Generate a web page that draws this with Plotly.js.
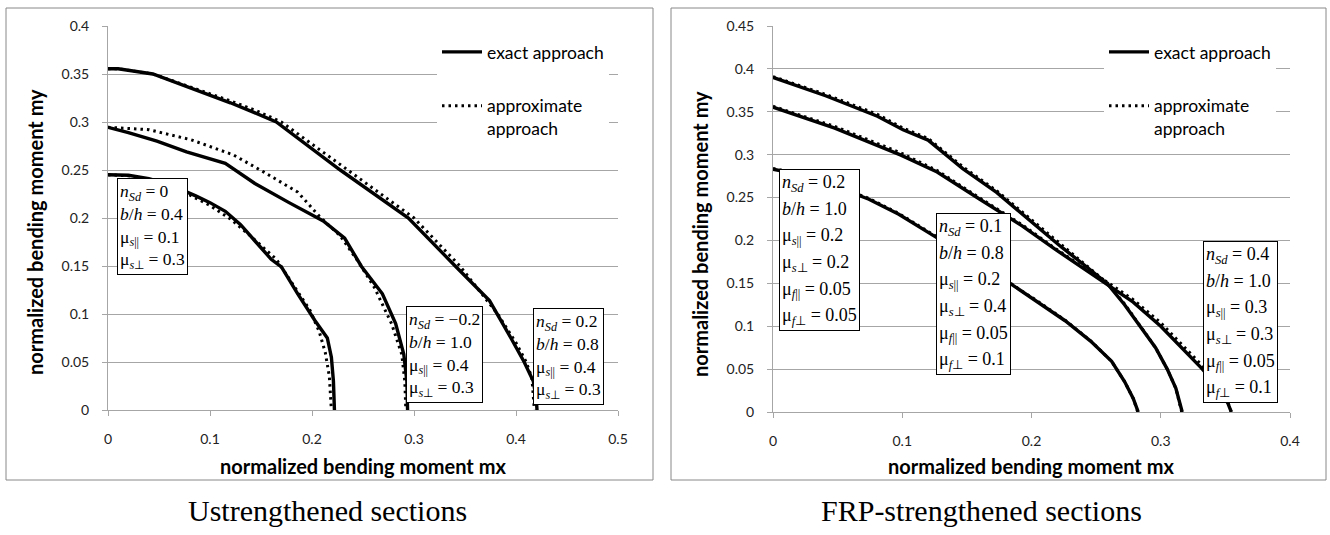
<!DOCTYPE html>
<html>
<head>
<meta charset="utf-8">
<script src="https://cdn.plot.ly/plotly-3.0.1.min.js"></script>
<style>html,body{margin:0;padding:0;background:#fff;}#chart{width:1330px;height:535px;}</style>
</head>
<body>
<div id="chart"></div>
<script>
// ---------- Unstrengthened sections (left) ----------
// nSd = 0, b/h = 0.4
const u1ExactMx = [0, 0.02, 0.04, 0.06, 0.086, 0.1, 0.115, 0.13, 0.145, 0.16, 0.17, 0.186, 0.203, 0.215, 0.219, 0.221, 0.222];
const u1ExactMy = [0.245, 0.2445, 0.241, 0.235, 0.223, 0.216, 0.207, 0.193, 0.175, 0.157, 0.149, 0.121, 0.093, 0.075, 0.055, 0.03, 0];
const u1ApproxMx = [0, 0.02, 0.04, 0.06, 0.08, 0.1, 0.12, 0.14, 0.165, 0.18, 0.198, 0.207, 0.213, 0.217, 0.219];
const u1ApproxMy = [0.245, 0.244, 0.24, 0.233, 0.224, 0.213, 0.199, 0.181, 0.157, 0.133, 0.104, 0.082, 0.06, 0.035, 0];
// nSd = -0.2, b/h = 1.0
const u2ExactMx = [0, 0.02, 0.048, 0.077, 0.115, 0.144, 0.1775, 0.211, 0.232, 0.2485, 0.269, 0.282, 0.29, 0.293, 0.2937];
const u2ExactMy = [0.2945, 0.289, 0.28, 0.269, 0.257, 0.236, 0.216, 0.197, 0.179, 0.1495, 0.121, 0.09, 0.058, 0.03, 0];
const u2ApproxMx = [0, 0.04, 0.0815, 0.123, 0.1525, 0.186, 0.207, 0.228, 0.245, 0.261, 0.278, 0.288, 0.291, 0.292];
const u2ApproxMy = [0.2945, 0.292, 0.2815, 0.2657, 0.248, 0.227, 0.202, 0.181, 0.155, 0.128, 0.09, 0.058, 0.03, 0];
// nSd = 0.2, b/h = 0.8
const u3ExactMx = [0, 0.01, 0.044, 0.08, 0.12, 0.143, 0.165, 0.2277, 0.2945, 0.3404, 0.374, 0.395, 0.408, 0.417, 0.42, 0.4206];
const u3ExactMy = [0.3554, 0.3554, 0.35, 0.336, 0.32, 0.31, 0.3, 0.25, 0.2, 0.15, 0.114, 0.075, 0.05, 0.03, 0.01, 0];
const u3ApproxMx = [0, 0.01, 0.044, 0.08, 0.12, 0.145, 0.17, 0.235, 0.3, 0.345, 0.382, 0.4, 0.41, 0.4156, 0.418];
const u3ApproxMy = [0.3554, 0.3554, 0.35, 0.337, 0.322, 0.312, 0.3, 0.25, 0.2, 0.15, 0.1, 0.07, 0.05, 0.0334, 0];

// ---------- FRP-strengthened sections (right) ----------
// curve starting at 0.283
const f1ExactMx = [0, 0.02, 0.05, 0.0742, 0.0973, 0.127, 0.16, 0.191, 0.203, 0.226, 0.2457, 0.262, 0.272, 0.2787, 0.2826];
const f1ExactMy = [0.283, 0.277, 0.262, 0.248, 0.2305, 0.203, 0.174, 0.1418, 0.13, 0.1064, 0.0827, 0.059, 0.0355, 0.0158, 0];
const f1ApproxMx = [0, 0.02, 0.05, 0.0742, 0.0973, 0.127, 0.16, 0.191, 0.203, 0.226, 0.2457, 0.262, 0.272, 0.2787, 0.2822];
const f1ApproxMy = [0.284, 0.278, 0.263, 0.249, 0.2315, 0.204, 0.175, 0.1425, 0.131, 0.107, 0.083, 0.059, 0.0355, 0.0158, 0];
// curve starting at 0.3554
const f2ExactMx = [0, 0.0478, 0.099, 0.127, 0.16, 0.193, 0.219, 0.2457, 0.259, 0.2787, 0.3, 0.3315, 0.345, 0.352, 0.3546];
const f2ExactMy = [0.3554, 0.331, 0.2995, 0.2797, 0.248, 0.2167, 0.189, 0.162, 0.149, 0.128, 0.1, 0.0512, 0.028, 0.01, 0];
const f2ApproxMx = [0, 0.0478, 0.099, 0.127, 0.16, 0.193, 0.219, 0.2457, 0.259, 0.2787, 0.3, 0.3315, 0.345, 0.352, 0.3546];
const f2ApproxMy = [0.3564, 0.333, 0.302, 0.2815, 0.2495, 0.218, 0.19, 0.163, 0.151, 0.131, 0.104, 0.055, 0.03, 0.011, 0];
// curve starting at 0.39
const f3ExactMx = [0, 0.0412, 0.0808, 0.1006, 0.12, 0.1468, 0.173, 0.196, 0.2226, 0.2457, 0.259, 0.272, 0.284, 0.296, 0.305, 0.3117, 0.3166];
const f3ExactMy = [0.39, 0.3684, 0.3448, 0.329, 0.317, 0.2837, 0.256, 0.2266, 0.193, 0.1655, 0.149, 0.125, 0.1, 0.075, 0.05, 0.0276, 0];
const f3ApproxMx = [0, 0.0412, 0.0808, 0.1006, 0.12, 0.1468, 0.173, 0.196, 0.2226, 0.2457, 0.259, 0.272, 0.284, 0.296, 0.305, 0.3117, 0.3162];
const f3ApproxMy = [0.391, 0.37, 0.347, 0.331, 0.319, 0.286, 0.258, 0.229, 0.195, 0.167, 0.15, 0.126, 0.1, 0.075, 0.05, 0.0276, 0];

// ---------- axis ranges ----------
const leftXRange = [0, 0.5];
const leftYRange = [0, 0.4];
const rightXRange = [0, 0.4];
const rightYRange = [0, 0.45];

// ---------- text ----------
const xTitle = 'normalized bending moment mx';
const yTitle = 'normalized bending moment my';
const legendExact = 'exact approach';
const legendApprox = 'approximate<br>approach';
const captionLeft = 'Ustrengthened sections';
const captionRight = 'FRP-strengthened sections';
const boxU1 = ['<i>n</i><sub><i>Sd</i></sub> = 0', '<i>b</i>/<i>h</i> = 0.4', 'μ<sub><i>s</i>||</sub> = 0.1', 'μ<sub><i>s</i>⊥</sub> = 0.3'];
const boxU2 = ['<i>n</i><sub><i>Sd</i></sub> = −0.2', '<i>b</i>/<i>h</i> = 1.0', 'μ<sub><i>s</i>||</sub> = 0.4', 'μ<sub><i>s</i>⊥</sub> = 0.3'];
const boxU3 = ['<i>n</i><sub><i>Sd</i></sub> = 0.2', '<i>b</i>/<i>h</i> = 0.8', 'μ<sub><i>s</i>||</sub> = 0.4', 'μ<sub><i>s</i>⊥</sub> = 0.3'];
const boxF1 = ['<i>n</i><sub><i>Sd</i></sub> = 0.2', '<i>b</i>/<i>h</i> = 1.0', 'μ<sub><i>s</i>||</sub> = 0.2', 'μ<sub><i>s</i>⊥</sub> = 0.2', 'μ<sub><i>f</i>||</sub> = 0.05', 'μ<sub><i>f</i>⊥</sub> = 0.05'];
const boxF2 = ['<i>n</i><sub><i>Sd</i></sub> = 0.1', '<i>b</i>/<i>h</i> = 0.8', 'μ<sub><i>s</i>||</sub> = 0.2', 'μ<sub><i>s</i>⊥</sub> = 0.4', 'μ<sub><i>f</i>||</sub> = 0.05', 'μ<sub><i>f</i>⊥</sub> = 0.1'];
const boxF3 = ['<i>n</i><sub><i>Sd</i></sub> = 0.4', '<i>b</i>/<i>h</i> = 1.0', 'μ<sub><i>s</i>||</sub> = 0.3', 'μ<sub><i>s</i>⊥</sub> = 0.3', 'μ<sub><i>f</i>||</sub> = 0.05', 'μ<sub><i>f</i>⊥</sub> = 0.1'];

// ---------- build traces ----------
const exactLine = {color: '#000', width: 3.4};
const approxLine = {color: '#000', width: 3, dash: '2.5px,4px'};

function tr(x, y, kind, axes, legendName, show) {
  return {
    x: x, y: y, type: 'scatter', mode: 'lines',
    xaxis: axes[0], yaxis: axes[1],
    line: kind === 'exact' ? exactLine : approxLine,
    name: kind === 'exact' ? legendExact : legendApprox,
    legendgroup: kind, legend: legendName, showlegend: show,
    hoverinfo: 'skip'
  };
}
const L = ['x', 'y'], R = ['x2', 'y2'];
const data = [
  tr(u1ApproxMx, u1ApproxMy, 'approx', L, 'legend', false),
  tr(u2ApproxMx, u2ApproxMy, 'approx', L, 'legend', false),
  tr(u3ApproxMx, u3ApproxMy, 'approx', L, 'legend', false),
  tr(u1ExactMx, u1ExactMy, 'exact', L, 'legend', true),
  tr(u2ExactMx, u2ExactMy, 'exact', L, 'legend', false),
  tr(u3ExactMx, u3ExactMy, 'exact', L, 'legend', false),
  tr([null], [null], 'approx', L, 'legend', true),
  tr(f1ApproxMx, f1ApproxMy, 'approx', R, 'legend2', false),
  tr(f2ApproxMx, f2ApproxMy, 'approx', R, 'legend2', false),
  tr(f3ApproxMx, f3ApproxMy, 'approx', R, 'legend2', false),
  tr(f1ExactMx, f1ExactMy, 'exact', R, 'legend2', true),
  tr(f2ExactMx, f2ExactMy, 'exact', R, 'legend2', false),
  tr(f3ExactMx, f3ExactMy, 'exact', R, 'legend2', false),
  tr([null], [null], 'approx', R, 'legend2', true)
];

const gray = '#a6a6a6';
const tickFont = {family: 'Lato, "Open Sans", sans-serif', size: 14, color: '#222'};
function axisCommon(extra) {
  return Object.assign({
    showline: true, linecolor: gray, linewidth: 1,
    ticks: 'outside', ticklen: 5, tickcolor: gray, tickwidth: 1,
    zeroline: false, tickfont: tickFont, fixedrange: true
  }, extra);
}
const PW = 1330, PH = 535;
const px = v => v / PW;
const py = v => 1 - v / PH;

const titleFont = {family: 'Lato, "Open Sans", sans-serif', size: 20, color: '#000', weight: 'bold'};
const legendFont = {family: 'Lato, "Open Sans", sans-serif', size: 17.5, color: '#000'};
const serif = '"Liberation Serif", "Times New Roman", serif';
const captionFont = {family: serif, size: 30, color: '#000'};

// lineSize controls the row spacing, textSize the glyph size
function boxAnn(lines, xr, yr, x, y, lineSize, textSize) {
  const text = lines.map(s => '<span style="font-size:' + textSize + 'px">' + s + '</span>').join('<br>');
  return {text: text, xref: xr, yref: yr, x: x, y: y, xanchor: 'left', yanchor: 'top',
    showarrow: false, align: 'left', bgcolor: '#fff', bordercolor: '#000', borderwidth: 1,
    borderpad: 2, font: {family: serif, size: lineSize, color: '#000'}};
}

const layout = {
  width: PW, height: PH,
  margin: {l: 0, r: 0, t: 0, b: 0},
  paper_bgcolor: '#fff', plot_bgcolor: '#fff',
  xaxis: axisCommon({domain: [px(108), px(618)], range: leftXRange, dtick: 0.1, showgrid: false, anchor: 'y', ticklabelstandoff: 11}),
  yaxis: axisCommon({domain: [py(410), py(26)], range: leftYRange, dtick: 0.05, showgrid: true, gridcolor: gray, anchor: 'x', ticklabelstandoff: 10}),
  xaxis2: axisCommon({domain: [px(773), px(1290)], range: rightXRange, dtick: 0.1, showgrid: false, anchor: 'y2', ticklabelstandoff: 11}),
  yaxis2: axisCommon({domain: [py(412), py(26)], range: rightYRange, dtick: 0.05, showgrid: true, gridcolor: gray, anchor: 'x2', ticklabelstandoff: 10}),
  legend: {x: px(437), y: py(34), xanchor: 'left', yanchor: 'top', bgcolor: '#fff', borderwidth: 0,
    font: legendFont, traceorder: 'grouped', tracegroupgap: 28, valign: 'top', itemwidth: 40},
  legend2: {x: px(1104), y: py(34), xanchor: 'left', yanchor: 'top', bgcolor: '#fff', borderwidth: 0,
    font: legendFont, traceorder: 'grouped', tracegroupgap: 28, valign: 'top', itemwidth: 40},
  shapes: [
    {type: 'rect', xref: 'paper', yref: 'paper', x0: px(6), x1: px(653), y0: py(480), y1: py(8), line: {color: '#888', width: 1}, layer: 'below'},
    {type: 'rect', xref: 'paper', yref: 'paper', x0: px(671), x1: px(1326), y0: py(480), y1: py(8), line: {color: '#888', width: 1}, layer: 'below'}
  ],
  annotations: [
    {text: xTitle, xref: 'paper', yref: 'paper', x: px(363), y: py(466), showarrow: false, font: titleFont, xanchor: 'center', yanchor: 'middle'},
    {text: xTitle, xref: 'paper', yref: 'paper', x: px(1031), y: py(466), showarrow: false, font: titleFont, xanchor: 'center', yanchor: 'middle'},
    {text: yTitle, xref: 'paper', yref: 'paper', x: px(35), y: py(232), textangle: -90, showarrow: false, font: titleFont, xanchor: 'center', yanchor: 'middle'},
    {text: yTitle, xref: 'paper', yref: 'paper', x: px(700), y: py(234), textangle: -90, showarrow: false, font: titleFont, xanchor: 'center', yanchor: 'middle'},
    {text: captionLeft, xref: 'paper', yref: 'paper', x: px(327), y: py(510), showarrow: false, xanchor: 'center', yanchor: 'middle', font: captionFont},
    {text: captionRight, xref: 'paper', yref: 'paper', x: px(981), y: py(510), showarrow: false, xanchor: 'center', yanchor: 'middle', font: captionFont},
    boxAnn(boxU1, 'x', 'y', 0.0092, 0.242, 17.5, 17.5),
    boxAnn(boxU2, 'x', 'y', 0.2924, 0.1084, 17.5, 17.5),
    boxAnn(boxU3, 'x', 'y', 0.4165, 0.1066, 17.5, 17.5),
    boxAnn(boxF1, 'x2', 'y2', 0.005, 0.2837, 20.5, 18),
    boxAnn(boxF2, 'x2', 'y2', 0.1263, 0.2317, 20.5, 18),
    boxAnn(boxF3, 'x2', 'y2', 0.3325, 0.199, 20.5, 18)
  ]
};

Plotly.newPlot('chart', data, layout, {staticPlot: true, displayModeBar: false});
</script>
</body>
</html>
